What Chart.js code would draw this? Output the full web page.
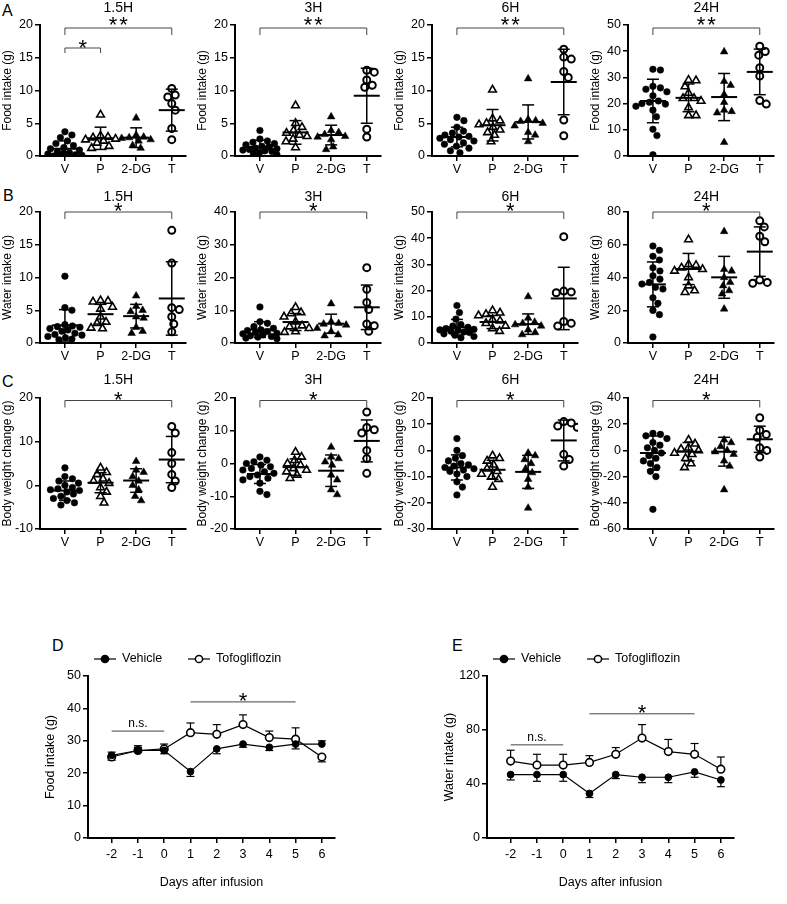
<!DOCTYPE html>
<html>
<head>
<meta charset="utf-8">
<script src="https://cdn.jsdelivr.net/npm/chart.js@4.4.1/dist/chart.umd.min.js"></script>
<style>
  body { margin: 0; background: #fff; }
  #page { position: relative; width: 787px; height: 904px; font-family: "Liberation Sans", Arial, sans-serif; }
  #page canvas { position: absolute; }
  .letter { position: absolute; font-size: 16px; line-height: 16px; color: #000; }
</style>
</head>
<body>
<div id="page">
  <div class="letter" style="left:2px;top:3px">A</div>
  <div class="letter" style="left:3px;top:188px">B</div>
  <div class="letter" style="left:2px;top:374px">C</div>
  <div class="letter" style="left:52px;top:638px">D</div>
  <div class="letter" style="left:452px;top:638px">E</div>
</div>
<script>
// groups and time points
const groupNames = ['V', 'P', '2-DG', 'T'];
const timeLabels = ['1.5H', '3H', '6H', '24H'];

// y tick values per panel
const foodTicks = [[0, 5, 10, 15, 20], [0, 5, 10, 15, 20], [0, 5, 10, 15, 20], [0, 10, 20, 30, 40, 50]];
const waterTicks = [[0, 5, 10, 15, 20], [0, 10, 20, 30, 40], [0, 10, 20, 30, 40, 50], [0, 20, 40, 60, 80]];
const weightTicks = [[-10, 0, 10, 20], [-20, -10, 0, 10, 20], [-30, -20, -10, 0, 10, 20], [-60, -40, -20, 0, 20, 40]];

// A: food intake (g), points per group [V, P, 2-DG, T]
const food15 = [
  [3.7, 3.2, 2.8, 2.3, 1.9, 1.6, 1.3, 1.1, 0.9, 0.7, 0.5, 0.4, 0.3, 0.2, 0.1, 0.0, 0.0],
  [6.3, 3.1, 2.9, 2.8, 2.6, 2.5, 2.3, 2.0, 1.5, 1.2],
  [5.8, 3.2, 2.9, 2.8, 2.7, 2.5, 2.3, 1.6, 1.2],
  [10.3, 9.3, 9.0, 8.0, 7.0, 4.2, 2.5]
];
const food3 = [
  [3.9, 2.6, 2.3, 2.1, 1.9, 1.7, 1.5, 1.4, 1.2, 1.1, 1.0, 0.9, 0.8, 0.7, 0.5, 0.3, 0.2],
  [7.7, 5.0, 4.4, 3.9, 3.5, 3.2, 3.0, 2.6, 2.2, 1.3],
  [6.0, 3.9, 3.6, 3.3, 3.0, 2.9, 2.5, 1.4, 1.0],
  [13.1, 12.8, 11.6, 10.8, 10.5, 4.1, 2.9]
];
const food6 = [
  [5.9, 5.4, 4.4, 3.8, 3.5, 3.2, 3.0, 2.9, 2.7, 2.5, 2.3, 2.0, 1.8, 1.5, 1.2, 0.8, 0.5],
  [10.1, 5.7, 5.4, 5.0, 4.8, 4.4, 4.0, 3.6, 3.2, 2.2],
  [11.8, 5.6, 5.4, 5.3, 5.0, 4.6, 3.6, 3.2, 2.2],
  [16.3, 15.1, 14.8, 12.9, 12.0, 5.5, 3.1]
];
const food24 = [
  [33.1, 32.8, 26.6, 26.0, 25.5, 24.5, 23.0, 21.0, 20.5, 20.0, 19.8, 19.0, 17.5, 15.0, 10.2, 7.8, 0.5],
  [29.0, 28.8, 26.5, 24.0, 22.0, 22.0, 21.0, 18.5, 15.5, 15.5],
  [39.8, 28.5, 27.0, 23.5, 20.5, 17.5, 16.5, 17.0, 5.2],
  [41.9, 39.9, 38.5, 33.7, 30.5, 21.2, 19.8]
];
const foodMean = [[1.1, 2.7, 2.8, 7.0], [1.4, 3.6, 3.2, 9.2], [2.9, 4.7, 5.2, 11.3], [21.0, 22.2, 22.5, 32.1]];
const foodSd = [[1.2, 1.7, 1.5, 3.2], [1.0, 1.8, 1.5, 4.2], [1.5, 2.4, 2.6, 5.0], [8.3, 5.3, 9.0, 8.7]];

// B: water intake (g)
const water15 = [
  [10.2, 5.4, 5.0, 2.8, 2.6, 2.5, 2.4, 2.2, 2.0, 1.8, 1.5, 1.3, 1.2, 1.0, 0.8, 0.6, 0.5],
  [6.5, 6.4, 6.3, 5.5, 5.2, 4.0, 3.2, 3.0, 2.3, 2.2],
  [7.2, 5.6, 5.0, 4.8, 4.0, 3.8, 2.4, 1.8, 1.5],
  [17.2, 12.2, 5.4, 5.1, 4.0, 2.9, 1.7]
];
const water3 = [
  [11.0, 6.5, 6.0, 5.0, 4.5, 4.0, 3.8, 3.5, 3.2, 3.0, 2.8, 2.5, 2.2, 2.0, 1.8, 1.5, 1.3],
  [10.9, 9.3, 9.0, 8.0, 6.5, 5.3, 5.0, 4.5, 3.5, 3.3],
  [12.0, 6.5, 6.0, 5.8, 5.5, 4.5, 3.5, 2.5, 2.2],
  [23.0, 16.4, 12.4, 10.2, 5.8, 5.3, 3.6]
];
const water6 = [
  [14.3, 11.6, 9.1, 7.0, 6.5, 6.0, 5.5, 5.2, 5.0, 4.8, 4.5, 4.2, 4.0, 3.5, 3.0, 2.5, 2.0],
  [12.4, 11.5, 11.0, 10.5, 9.0, 8.5, 7.5, 6.5, 5.5, 4.5],
  [17.7, 9.5, 8.0, 7.5, 7.0, 6.5, 5.0, 4.0, 3.2],
  [40.6, 19.8, 19.5, 19.2, 8.2, 7.5, 6.5]
];
const water24 = [
  [59.2, 56.6, 53.0, 50.7, 46.0, 44.0, 41.0, 39.0, 37.0, 36.0, 34.0, 33.0, 27.6, 24.2, 19.9, 17.3, 3.7],
  [63.2, 48.0, 47.5, 46.0, 45.0, 44.0, 40.0, 35.0, 32.0, 31.0],
  [68.1, 45.0, 44.0, 40.0, 37.0, 35.0, 32.0, 30.0, 20.8],
  [74.6, 70.9, 65.2, 61.8, 38.4, 37.0, 36.5]
];
const waterMean = [[2.7, 4.4, 4.1, 6.8], [4.1, 6.4, 5.9, 10.9], [6.0, 8.0, 7.2, 17.0], [35.8, 45.2, 40.1, 55.8]];
const waterSd = [[2.4, 1.5, 1.8, 5.6], [2.4, 2.6, 2.9, 6.8], [3.0, 2.5, 3.9, 11.9], [13.7, 9.5, 12.8, 15.1]];

// C: body weight change (g)
const weight15 = [
  [4.0, 2.0, 1.5, 1.0, 0.5, 0.0, -0.5, -0.8, -1.0, -1.5, -2.0, -2.5, -3.0, -3.5, -4.0, -4.5, -1.2],
  [4.0, 3.0, 2.5, 1.5, 1.0, 0.5, -0.5, -1.5, -2.5, -4.0],
  [5.5, 3.5, 3.0, 2.0, 1.0, 0.0, -1.0, -2.5, -3.5],
  [13.5, 12.0, 7.5, 5.0, 2.5, 1.0, -0.5]
];
const weight3 = [
  [2.0, 1.0, 0.5, 0.0, -0.5, -1.0, -1.5, -2.0, -2.5, -3.0, -3.5, -4.0, -4.5, -5.0, -6.0, -8.5, -9.5],
  [3.5, 2.0, 1.0, 0.0, -0.5, -1.5, -2.0, -2.5, -3.5, -4.5],
  [5.0, 2.0, 1.5, 0.5, -0.5, -3.5, -5.0, -8.0, -9.5],
  [15.7, 11.0, 10.3, 9.3, 4.0, 1.5, -3.0]
];
const weight6 = [
  [4.5, 0.0, -2.0, -3.0, -4.0, -5.0, -5.5, -6.0, -6.5, -7.0, -7.5, -8.0, -9.0, -10.0, -12.0, -14.0, -17.0],
  [-2.0, -3.0, -4.0, -5.5, -7.0, -8.0, -9.0, -10.0, -11.0, -14.0],
  [-1.0, -2.0, -3.5, -5.0, -7.0, -8.5, -11.0, -14.0, -22.0],
  [11.0, 10.5, 9.3, 8.8, -1.5, -3.5, -6.0]
];
const weight24 = [
  [13.0, 12.2, 11.1, 9.0, 6.0, 4.0, 2.0, 0.0, -2.0, -4.0, -6.0, -8.0, -10.0, -13.0, -16.0, -20.0, -45.0],
  [8.0, 5.0, 2.0, 1.0, 0.0, -2.0, -3.0, -6.0, -10.0, -13.0],
  [8.0, 6.0, 3.0, 0.0, -1.0, -3.0, -8.0, -12.0, -30.0],
  [24.9, 15.4, 12.2, 10.0, 2.0, 0.0, -5.0]
];
const weightMean = [[-1.2, 0.6, 1.1, 5.9], [-3.2, -1.1, -2.2, 6.9], [-6.5, -7.4, -8.2, 3.8], [-2.0, -1.0, -1.0, 8.5]];
const weightSd = [[2.2, 2.3, 2.7, 5.3], [2.9, 2.5, 4.8, 6.4], [4.8, 3.6, 6.3, 7.8], [13.0, 7.0, 11.0, 10.0]];

// D / E: daily intake after infusion (mean, SEM)
const days = [-2, -1, 0, 1, 2, 3, 4, 5, 6];
const foodVehicle = [25.5, 27, 27, 20.5, 27.5, 29, 28, 29, 29];
const foodVehicleSem = [1, 1, 1, 1.5, 1.5, 1, 1, 1.5, 1];
const foodTofo = [25, 27, 27.5, 32.5, 32, 35, 31, 30.5, 25];
const foodTofoSem = [1, 1.5, 1.5, 3, 3, 3, 2, 3.5, 1.5];
const waterVehicle = [47, 47, 47, 33, 47, 45, 45, 49, 43];
const waterVehicleSem = [4, 5, 5, 3, 3, 4, 4, 4, 5];
const waterTofo = [57, 54, 54, 56, 62, 74, 64, 62, 51];
const waterTofoSem = [8, 8, 8, 5, 5, 10, 9, 8, 9];
const foodTicksD = [0, 10, 20, 30, 40, 50];
const waterTicksE = [0, 40, 80, 120];
const foodSig = [{ from: -2, to: 0, y: 33, label: 'n.s.' }, { from: 1, to: 5, y: 42, label: '*' }];
const waterSig = [{ from: -2, to: 0, y: 69, label: 'n.s.' }, { from: 1, to: 5, y: 92, label: '*' }];

const FONT = '"Liberation Sans", Arial, sans-serif';
Chart.defaults.font.family = FONT;
Chart.defaults.color = '#000';

function makeCanvas(left, top, w, h) {
  const c = document.createElement('canvas');
  c.width = w; c.height = h;
  c.style.left = left + 'px'; c.style.top = top + 'px';
  c.style.width = w + 'px'; c.style.height = h + 'px';
  document.getElementById('page').appendChild(c);
  return c;
}

// GraphPad style swarm: spread points sideways when they collide
function swarmOffsets(values, unitPx, bandPx) {
  const gap = 7.4, maxOff = 17;
  const order = values.map((v, i) => i).sort((a, b) => values[b] - values[a]);
  const placed = [];
  const offs = [];
  order.forEach(i => {
    const py = values[i] * unitPx;
    let pick = 0, bestD = -1, done = false;
    for (let s = 0; s <= maxOff && !done; s += 0.5) {
      for (const cand of (s === 0 ? [0] : [s, -s])) {
        const d = placed.reduce((m, p) => Math.min(m, Math.hypot(p.x - cand, p.y - py)), Infinity);
        if (d >= gap) { pick = cand; done = true; break; }
        if (d > bestD) { bestD = d; pick = cand; }
      }
    }
    placed.push({ x: pick, y: py });
    offs[i] = pick / bandPx;
  });
  return offs;
}

function seg(ctx, x1, y1, x2, y2) {
  ctx.beginPath(); ctx.moveTo(x1, y1); ctx.lineTo(x2, y2); ctx.stroke();
}

function drawStars(ctx, label, cx, baseline) {
  if (label.indexOf('*') < 0) {
    ctx.font = '12px ' + FONT;
    ctx.fillText(label, cx, baseline);
    return;
  }
  ctx.font = '22px ' + FONT;
  const n = label.length;
  for (let k = 0; k < n; k++) ctx.fillText('*', cx + (k - (n - 1) / 2) * 10.5, baseline);
}

const dotDecor = {
  id: 'dotDecor',
  afterDatasetsDraw(chart, args, o) {
    const { ctx, chartArea: a, scales: { x, y } } = chart;
    ctx.save();
    ctx.strokeStyle = '#000';
    o.mean.forEach((m, i) => {
      const cx = x.getPixelForValue(i);
      const yt = y.getPixelForValue(m + o.sd[i]);
      const yb = Math.min(y.getPixelForValue(m - o.sd[i]), a.bottom);
      ctx.lineWidth = 1.5;
      seg(ctx, cx, yt, cx, yb);
      seg(ctx, cx - 6, yt, cx + 6, yt);
      if (yb < a.bottom) seg(ctx, cx - 6, yb, cx + 6, yb);
      ctx.lineWidth = 2;
      const ym = y.getPixelForValue(m);
      seg(ctx, cx - 13, ym, cx + 13, ym);
    });
    ctx.fillStyle = '#000';
    ctx.textAlign = 'center';
    ctx.textBaseline = 'middle';
    ctx.font = '14px ' + FONT;
    const mid = (x.getPixelForValue(0) + x.getPixelForValue(3)) / 2;
    ctx.fillText(o.title, mid, a.top + o.titleDy);
    ctx.textBaseline = 'alphabetic';
    ctx.strokeStyle = '#444';
    ctx.lineWidth = 1;
    o.brackets.forEach(b => {
      const x1 = x.getPixelForValue(b.from), x2 = x.getPixelForValue(b.to);
      const ly = a.top + b.dy;
      ctx.beginPath();
      ctx.moveTo(x1, ly + b.drop); ctx.lineTo(x1, ly); ctx.lineTo(x2, ly); ctx.lineTo(x2, ly + b.drop);
      ctx.stroke();
      drawStars(ctx, b.label, (x1 + x2) / 2, ly + b.starDy);
    });
    ctx.restore();
  }
};

const groupStyle = [
  { pointStyle: 'circle', pointRadius: 3.3, pointBackgroundColor: '#000', pointBorderWidth: 0.5 },
  { pointStyle: 'triangle', pointRadius: 4.4, pointBackgroundColor: '#fff', pointBorderWidth: 1.6 },
  { pointStyle: 'triangle', pointRadius: 4.4, pointBackgroundColor: '#000', pointBorderWidth: 0.5 },
  { pointStyle: 'circle', pointRadius: 3.5, pointBackgroundColor: '#fff', pointBorderWidth: 2 }
];

function axisCommon() {
  return {
    grid: { drawOnChartArea: false, drawTicks: true, tickLength: 5, color: '#000', lineWidth: 1.5 },
    border: { display: true, color: '#000', width: 2 }
  };
}

function dotPanel(left, top, pts, mean, sd, ticks, yTitle, title, brackets, rowDec) {
  const W = 192, H = 182, plotH = 131, band = 35.6;
  const yMin = ticks[0], yMax = ticks[ticks.length - 1];
  const unitPx = plotH / (yMax - yMin);
  const canvas = makeCanvas(left, top, W, H);
  const datasets = pts.map((vals, gi) => {
    const offs = swarmOffsets(vals, unitPx, band);
    return Object.assign({
      data: vals.map((v, i) => ({ x: gi + offs[i], y: v })),
      pointBorderColor: '#000'
    }, groupStyle[gi]);
  });
  new Chart(canvas, {
    type: 'scatter',
    data: { datasets },
    options: {
      responsive: false,
      animation: false,
      events: [],
      layout: { padding: { top: 25, right: 6, left: 0, bottom: 0 } },
      plugins: {
        legend: { display: false },
        tooltip: { enabled: false },
        dotDecor: { mean, sd, title, brackets, titleDy: rowDec.titleDy }
      },
      scales: {
        x: Object.assign(axisCommon(), {
          type: 'linear', min: -0.7, max: 3.4,
          afterBuildTicks: a => { a.ticks = groupNames.map((g, i) => ({ value: i })); },
          afterFit: a => { a.height = 26; },
          ticks: { callback: v => groupNames[v], font: { size: 12.5 }, padding: 1, maxRotation: 0, autoSkip: false }
        }),
        y: Object.assign(axisCommon(), {
          min: yMin, max: yMax,
          afterBuildTicks: a => { a.ticks = ticks.map(v => ({ value: v })); },
          afterFit: a => { a.width = 40; },
          ticks: { font: { size: 12.5 }, padding: 2 },
          title: { display: true, text: yTitle, font: { size: 12 }, padding: 0 }
        })
      }
    },
    plugins: [dotDecor]
  });
}

// rows of dot panels
const colLefts = [0, 195, 392, 588];
const rows = [
  { top: 0, title: 'Food intake (g)', sets: [food15, food3, food6, food24], mean: foodMean, sd: foodSd, ticks: foodTicks, stars: '**',
    dec: { titleDy: -17, dy: 3, drop: 7, starDy: 4 } },
  { top: 187, title: 'Water intake (g)', sets: [water15, water3, water6, water24], mean: waterMean, sd: waterSd, ticks: waterTicks, stars: '*',
    dec: { titleDy: -15, dy: 0, drop: 7, starDy: 6 } },
  { top: 373, title: 'Body weight change (g)', sets: [weight15, weight3, weight6, weight24], mean: weightMean, sd: weightSd, ticks: weightTicks, stars: '*',
    dec: { titleDy: -18, dy: 2.5, drop: 7, starDy: 6 } }
];

rows.forEach((r, ri) => {
  r.sets.forEach((pts, ci) => {
    const brackets = [{ from: 0, to: 3, label: r.stars, dy: r.dec.dy, drop: r.dec.drop, starDy: r.dec.starDy }];
    if (ri === 0 && ci === 0) brackets.push({ from: 0, to: 1, label: '*', dy: 23, drop: 5, starDy: 7 });
    dotPanel(colLefts[ci], r.top, pts, r.mean[ci], r.sd[ci], r.ticks[ci], r.title, timeLabels[ci], brackets, r.dec);
  });
});

// D / E line charts
const lineDecor = {
  id: 'lineDecor',
  beforeDatasetsDraw(chart) {
    const { ctx, scales: { x, y } } = chart;
    const [veh, tofo] = chart.data.datasets;
    ctx.save();
    ctx.strokeStyle = '#000';
    ctx.lineWidth = 1.2;
    [veh, tofo].forEach((ds, di) => {
      const other = di === 0 ? tofo : veh;
      ds.data.forEach((p, i) => {
        const dir = p.y >= other.data[i].y ? 1 : -1;
        const cx = x.getPixelForValue(p.x);
        const y0 = y.getPixelForValue(p.y);
        const y1 = y.getPixelForValue(p.y + dir * ds.sem[i]);
        seg(ctx, cx, y0, cx, y1);
        seg(ctx, cx - 4, y1, cx + 4, y1);
      });
    });
    ctx.restore();
  },
  afterDraw(chart, args, o) {
    const { ctx, chartArea: a, scales: { x, y } } = chart;
    ctx.save();
    ctx.fillStyle = '#000';
    ctx.strokeStyle = '#444';
    ctx.lineWidth = 1;
    ctx.textAlign = 'center';
    o.sig.forEach(s => {
      const x1 = x.getPixelForValue(s.from), x2 = x.getPixelForValue(s.to);
      const ly = y.getPixelForValue(s.y);
      seg(ctx, x1, ly, x2, ly);
      drawStars(ctx, s.label, (x1 + x2) / 2, s.label === '*' ? ly + 6 : ly - 4);
    });
    // legend
    const ly = a.top - 17;
    const items = [{ text: 'Vehicle', fill: '#000', at: a.left + 6 }, { text: 'Tofogliflozin', fill: '#fff', at: a.left + 100 }];
    ctx.textAlign = 'left';
    ctx.textBaseline = 'middle';
    ctx.font = '12.5px ' + FONT;
    items.forEach(it => {
      ctx.strokeStyle = '#000';
      ctx.lineWidth = 1.2;
      seg(ctx, it.at, ly, it.at + 22, ly);
      ctx.beginPath();
      ctx.arc(it.at + 11, ly, 3.6, 0, Math.PI * 2);
      ctx.fillStyle = it.fill;
      ctx.fill();
      ctx.lineWidth = 1.5;
      ctx.stroke();
      ctx.fillStyle = '#000';
      ctx.fillText(it.text, it.at + 28, ly);
    });
    ctx.restore();
  }
};

function linePanel(left, top, veh, vehSem, tofo, tofoSem, ticks, yTitle, sig) {
  const canvas = makeCanvas(left, top, 300, 254);
  new Chart(canvas, {
    type: 'line',
    data: {
      datasets: [
        { label: 'Vehicle', data: days.map((d, i) => ({ x: d, y: veh[i] })), sem: vehSem,
          borderColor: '#000', borderWidth: 1.2, tension: 0,
          pointStyle: 'circle', pointRadius: 3.4, pointBackgroundColor: '#000', pointBorderColor: '#000', pointBorderWidth: 1 },
        { label: 'Tofogliflozin', data: days.map((d, i) => ({ x: d, y: tofo[i] })), sem: tofoSem,
          borderColor: '#000', borderWidth: 1.2, tension: 0,
          pointStyle: 'circle', pointRadius: 3.8, pointBackgroundColor: '#fff', pointBorderColor: '#000', pointBorderWidth: 1.6 }
      ]
    },
    options: {
      responsive: false,
      animation: false,
      events: [],
      layout: { padding: { top: 36, right: 8, left: 0, bottom: 0 } },
      plugins: { legend: { display: false }, tooltip: { enabled: false }, lineDecor: { sig } },
      scales: {
        x: Object.assign(axisCommon(), {
          type: 'linear', min: -2.9, max: 6.5,
          afterBuildTicks: a => { a.ticks = days.map(v => ({ value: v })); },
          afterFit: a => { a.height = 56; },
          ticks: { font: { size: 12.5 }, padding: 4, maxRotation: 0, autoSkip: false },
          title: { display: true, text: 'Days after infusion', font: { size: 12.5 }, padding: { top: 8 } }
        }),
        y: Object.assign(axisCommon(), {
          min: ticks[0], max: ticks[ticks.length - 1],
          afterBuildTicks: a => { a.ticks = ticks.map(v => ({ value: v })); },
          afterFit: a => { a.width = 45; },
          ticks: { font: { size: 12.5 }, padding: 2 },
          title: { display: true, text: yTitle, font: { size: 12.5 }, padding: 0 }
        })
      }
    },
    plugins: [lineDecor]
  });
}

linePanel(43, 640, foodVehicle, foodVehicleSem, foodTofo, foodTofoSem, foodTicksD, 'Food intake (g)', foodSig);
linePanel(442, 640, waterVehicle, waterVehicleSem, waterTofo, waterTofoSem, waterTicksE, 'Water intake (g)', waterSig);
</script>
</body>
</html>
